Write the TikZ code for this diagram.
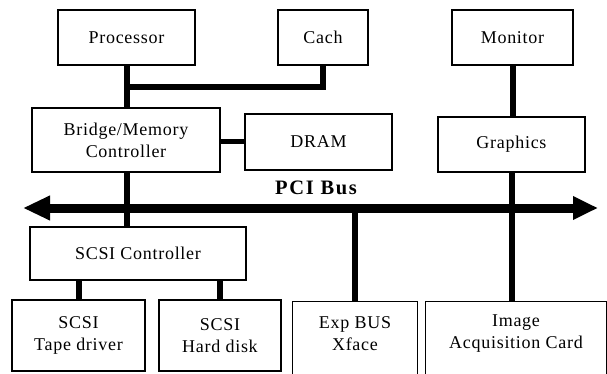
\documentclass[tikz,border=0pt]{standalone}
\usepackage{fontspec}
\setmainfont{Liberation Serif}
\newfontfamily\boxfont[LetterSpace=4]{Liberation Serif}
\newfontfamily\busfont[LetterSpace=8]{Liberation Serif}
\usetikzlibrary{arrows.meta}
\begin{document}
\begin{tikzpicture}[x=1pt,y=-1pt,
  box/.style={draw,line width=1.3pt,inner sep=0pt,align=center,
    font=\boxfont\fontsize{18}{22}\selectfont},
  openbox/.style={inner sep=0pt,align=center,
    font=\boxfont\fontsize{18}{22}\selectfont},
  frame/.style={line width=1.3pt},
  conn/.style={line width=6pt},
  buslabel/.style={inner sep=0pt,font=\busfont\bfseries\fontsize{20.5}{24}\selectfont}
]
\useasboundingbox (0,0) rectangle (607,374);
\clip (0,0) rectangle (607,374);

% boxes
\node[box,minimum width=137pt,minimum height=55pt] (proc) at (126.5,37.5) {Processor};
\node[box,minimum width=90pt,minimum height=55pt] (cach) at (323,37.5) {Cach};
\node[box,minimum width=121pt,minimum height=55pt] (mon) at (512.5,37.5) {Monitor};
\node[box,minimum width=188pt,minimum height=64pt] (bridge) at (126,140) {Bridge/Memory\\Controller};
\node[box,minimum width=147pt,minimum height=56pt] (dram) at (318.5,142) {DRAM};
\node[box,minimum width=147pt,minimum height=55pt] (gfx) at (511.5,144.5) {Graphics};
\node[box,minimum width=216pt,minimum height=53pt] (scsi) at (138,253.5) {SCSI Controller};
\node[box,minimum width=133pt,minimum height=71pt] (tape) at (78.5,335.5) {SCSI\\Tape driver};
\node[box,minimum width=122pt,minimum height=71pt] (hard) at (220,335.5) {SCSI\\Hard disk};
\node[openbox,minimum width=124pt,minimum height=64pt] (exp) at (355,334) {Exp BUS\\Xface};
\node[openbox,minimum width=180pt,minimum height=64pt] (img) at (516,334) {Image\\Acquisition Card};
\draw[frame] ([yshift=-12pt]exp.south west) -- (exp.north west) -- (exp.north east) -- ([yshift=-12pt]exp.south east);
\draw[frame] ([yshift=-12pt]img.south west) -- (img.north west) -- (img.north east) -- ([yshift=-12pt]img.south east);

% bus end points
\coordinate (busL) at (23,208);
\coordinate (busR) at (598,208);
\path (proc.south) ++(0,21) coordinate (pj);

% connectors
\draw[conn] (proc.south) -- (bridge.north -| proc.south);
\draw[conn] (cach.south) |- (pj);
\draw[line width=5pt] (bridge.east |- dram.west) -- (dram.west);
\draw[conn] (bridge.south -| proc.south) -- (scsi.north -| proc.south);
\draw[conn] (mon.south) -- (gfx.north -| mon.south);
\draw[conn] (gfx.south) -- (img.north -| gfx.south);
\draw[line width=5.5pt] (exp.north) -- (exp.north |- busL);
\draw[conn] (tape.north) -- (scsi.south -| tape.north);
\draw[conn] (hard.north) -- (scsi.south -| hard.north);

% PCI bus
\draw[line width=9pt,{Triangle[length=27pt,width=23pt]}-{Triangle[length=25pt,width=22pt]}] (busL) -- (busR);
\node[buslabel] (pci) at (316,188) {PCI Bus};
\end{tikzpicture}
\end{document}
